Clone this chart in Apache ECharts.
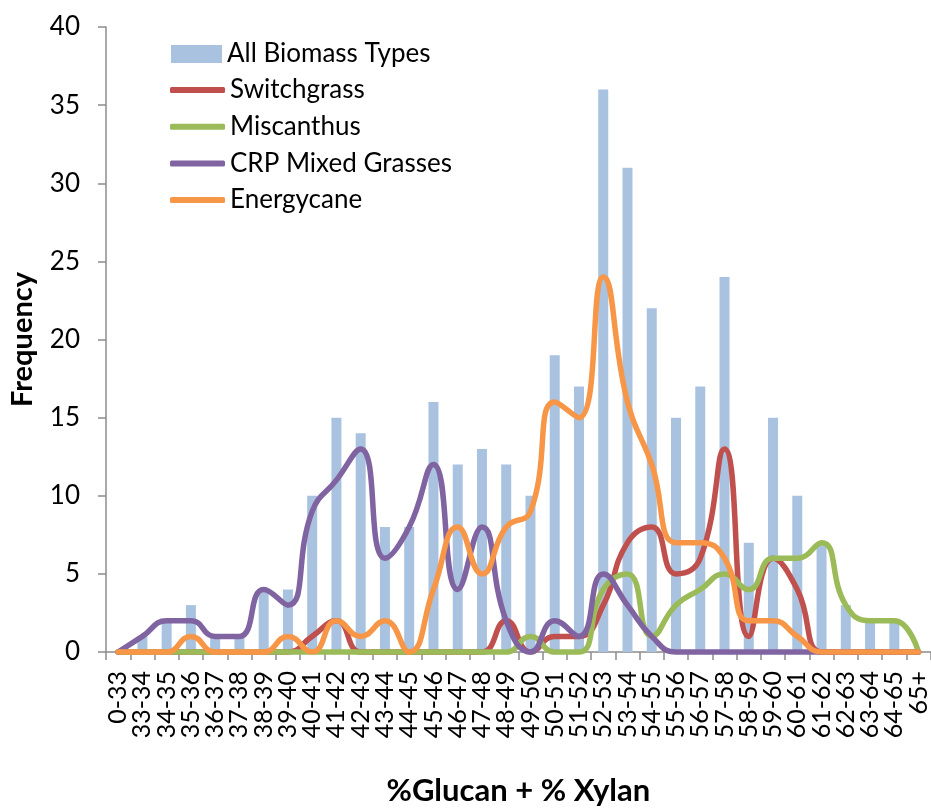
<!DOCTYPE html>
<html>
<head>
<meta charset="utf-8">
<script src="https://cdn.jsdelivr.net/npm/echarts@6/dist/echarts.min.js"></script>
<style>
  html, body { margin: 0; padding: 0; background: #fff; }
  #chart { width: 931px; height: 811px; }
</style>
</head>
<body>
<div id="chart"></div>
<script>
// Composition bins (%glucan + %xylan)
const categories = ['0-33','33-34','34-35','35-36','36-37','37-38','38-39','39-40','40-41','41-42',
  '42-43','43-44','44-45','45-46','46-47','47-48','48-49','49-50','50-51','51-52',
  '52-53','53-54','54-55','55-56','56-57','57-58','58-59','59-60','60-61','61-62',
  '62-63','63-64','64-65','65+'];

// Frequency counts per bin
const allBiomassTypes = [0,1,2,3,1,1,4,4,10,15,14,8,8,16,12,13,12,10,19,17,36,31,22,15,17,24,7,15,10,7,3,2,2,0];
const switchgrass     = [0,0,0,0,0,0,0,0,1,2,0,0,0,0,0,0,2,0,1,1,3,7,8,5,6,13,1,6,4,0,0,0,0,0];
const miscanthus      = [0,0,0,0,0,0,0,0,0,0,0,0,0,0,0,0,0,1,0,0,4,5,1,3,4,5,4,6,6,7,3,2,2,0];
const crpMixedGrasses = [0,1,2,2,1,1,4,3,9,11,13,6,8,12,4,8,2,0,2,1,5,3,1,0,0,0,0,0,0,0,0,0,0,0];
const energycane      = [0,0,0,1,0,0,0,1,0,2,1,2,0,4,8,5,8,9,16,15,24,16,12,7,7,6,2,2,1,0,0,0,0,0];

const yTicks = { min: 0, max: 40, interval: 5 };

const FONT = 'Lato, "Noto Sans", sans-serif';
const axisGray = '#8C8C8C';
const LINE_W = 5.5;

function curve(name, data, color) {
  return {
    name, type: 'line', data,
    smooth: 0.5, symbol: 'none', clip: false,
    lineStyle: { color, width: LINE_W, cap: 'round', join: 'round' },
    itemStyle: { color },
    z: 3
  };
}

const legendText = { fontFamily: FONT, fontSize: 26, color: '#000' };

const chart = echarts.init(document.getElementById('chart'), null, { renderer: 'canvas' });
chart.setOption({
  animation: false,
  backgroundColor: '#ffffff',
  textStyle: { fontFamily: FONT },
  grid: { left: 106, top: 27, width: 829, height: 630, containLabel: false },
  legend: [
    {
      // histogram swatch
      orient: 'vertical', left: 166, top: 36,
      itemWidth: 51, itemHeight: 18, itemGap: 10,
      textStyle: legendText,
      data: [{ name: 'All Biomass Types', icon: 'rect' }]
    },
    {
      // curve swatches
      orient: 'vertical', left: 165, top: 72,
      itemWidth: 55, itemHeight: 6, itemGap: 10.7,
      icon: 'roundRect',
      textStyle: legendText,
      data: ['Switchgrass', 'Miscanthus', 'CRP Mixed Grasses', 'Energycane']
    }
  ],
  xAxis: {
    type: 'category',
    data: categories,
    boundaryGap: true,
    name: '%Glucan + % Xylan',
    nameLocation: 'middle',
    nameGap: 123,
    nameTextStyle: { fontFamily: FONT, fontSize: 31, fontWeight: 'bold', color: '#000' },
    axisLine: { lineStyle: { color: axisGray, width: 1.5 } },
    axisTick: { show: true, length: 8, alignWithLabel: false, lineStyle: { color: axisGray, width: 1.5 } },
    axisLabel: { interval: 0, rotate: 90, margin: 19, fontSize: 25, color: '#000', fontFamily: FONT },
    splitLine: { show: false }
  },
  yAxis: {
    type: 'value',
    min: yTicks.min, max: yTicks.max, interval: yTicks.interval,
    name: 'Frequency',
    nameLocation: 'middle',
    nameGap: 69,
    nameTextStyle: { fontFamily: FONT, fontSize: 29, fontWeight: 'bold', color: '#000' },
    axisLine: { show: true, lineStyle: { color: axisGray, width: 1.5 } },
    axisTick: { show: true, length: 8, lineStyle: { color: axisGray, width: 1.5 } },
    axisLabel: { margin: 26, fontSize: 26, color: '#000', fontFamily: FONT },
    splitLine: { show: false }
  },
  series: [
    {
      name: 'All Biomass Types', type: 'bar', data: allBiomassTypes,
      barWidth: 10,
      itemStyle: { color: '#A9C2E0' },
      z: 2
    },
    curve('Switchgrass', switchgrass, '#C0504D'),
    curve('Miscanthus', miscanthus, '#9BBB59'),
    curve('CRP Mixed Grasses', crpMixedGrasses, '#8064A2'),
    curve('Energycane', energycane, '#F79646')
  ]
});
</script>
</body>
</html>
